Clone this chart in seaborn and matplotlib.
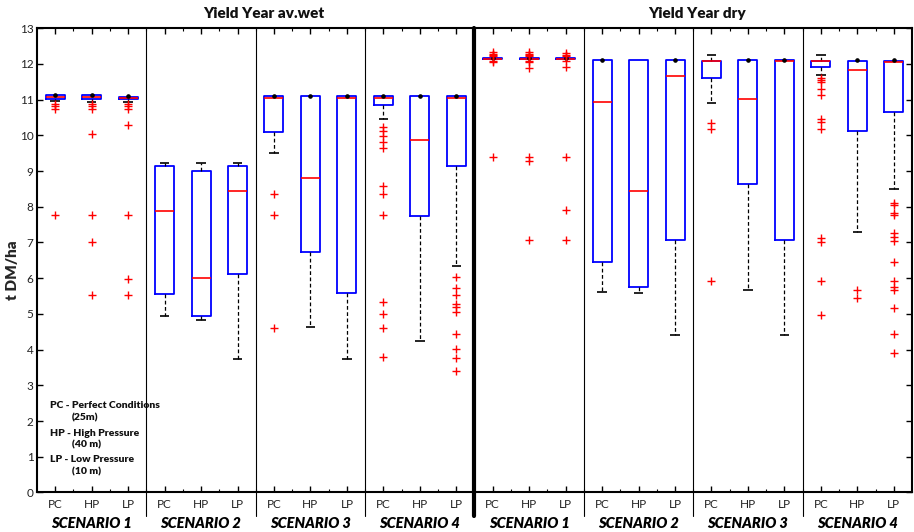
import matplotlib
matplotlib.use("Agg")
import matplotlib.pyplot as plt
import matplotlib.transforms as mtransforms
import seaborn as sns
import pandas as pd
import numpy as np

# ---------------- data ----------------
years = ["Yield Year av.wet", "Yield Year dry"]
scenarios = ["SCENARIO 1", "SCENARIO 2", "SCENARIO 3", "SCENARIO 4"]
methods = ["PC", "HP", "LP"]
ylabel = "t DM/ha"
legend_lines = ["PC - Perfect Conditions", "(25m)", "HP - High Pressure",
                "(40 m)", "LP - Low Pressure", "(10 m)"]

# order: av.wet S1..S4 (PC,HP,LP each), then dry S1..S4
whisker_low = [10.95, 10.93, 10.93, 4.93, 4.82, 3.75, 9.52, 4.62, 3.75, 10.46, 4.25, 6.35,
               12.11, 12.11, 12.11, 5.60, 5.58, 4.42, 10.90, 5.67, 4.42, 11.69, 7.30, 8.50]
q1 = [11.03, 11.03, 11.01, 5.57, 4.95, 6.12, 10.10, 6.72, 5.58, 10.84, 7.73, 9.15,
      12.13, 12.13, 12.13, 6.46, 5.76, 7.08, 11.60, 8.65, 7.08, 11.92, 10.12, 10.65]
median = [11.07, 11.07, 11.04, 7.88, 6.01, 8.44, 11.05, 8.82, 11.05, 11.06, 9.87, 11.05,
          12.15, 12.15, 12.15, 10.93, 8.44, 11.67, 12.08, 11.03, 12.08, 12.08, 11.82, 12.06]
q3 = [11.13, 11.13, 11.08, 9.15, 9.00, 9.15, 11.10, 11.10, 11.10, 11.10, 11.10, 11.10,
      12.16, 12.16, 12.16, 12.10, 12.10, 12.10, 12.09, 12.10, 12.10, 12.09, 12.09, 12.09]
whisker_high = [11.14, 11.14, 11.10, 9.22, 9.22, 9.22, 11.11, 11.11, 11.11, 11.11, 11.11, 11.11,
                12.18, 12.18, 12.18, 12.11, 12.10, 12.11, 12.24, 12.11, 12.11, 12.24, 12.10, 12.10]
outliers = [
    [10.88, 10.82, 10.73, 7.76],
    [10.88, 10.82, 10.73, 10.03, 7.76, 7.02, 5.53],
    [10.88, 10.82, 10.73, 10.30, 7.76, 5.97, 5.53],
    [], [], [],
    [8.37, 7.76, 4.60],
    [],
    [],
    [10.24, 10.13, 9.97, 9.81, 9.64, 8.57, 8.36, 7.76, 5.34, 4.99, 4.61, 3.78],
    [],
    [6.04, 5.73, 5.54, 5.28, 5.18, 5.05, 4.45, 4.03, 3.77, 3.40],
    [12.33, 12.29, 12.25, 12.22, 12.09, 12.05, 9.39],
    [12.33, 12.29, 12.25, 12.22, 12.09, 12.05, 11.89, 9.39, 9.28, 7.08],
    [12.30, 12.26, 12.22, 12.09, 11.92, 9.39, 7.91, 7.08],
    [], [], [],
    [10.36, 10.18, 5.91],
    [],
    [],
    [11.62, 11.55, 11.50, 11.30, 11.13, 10.46, 10.38, 10.17, 7.13, 7.02, 5.91, 4.97],
    [5.67, 5.45],
    [8.11, 8.06, 7.83, 7.78, 7.28, 7.16, 7.05, 6.46, 5.93, 5.74, 5.67, 5.17, 4.43, 3.90],
]

# ---------------- style ----------------
sns.set_style("ticks")
plt.rcParams['font.family'] = ['Lato', 'DejaVu Sans']

W, H = 914, 532
fig = plt.figure(figsize=(W / 100, H / 100), dpi=100)
ax_l, ax_r, ax_t, ax_b = 37, 912, 28.3, 492.4
ax = fig.add_axes([ax_l / W, (H - ax_b) / H, (ax_r - ax_l) / W, (ax_b - ax_t) / H])

n = len(q1)
positions = np.arange(1, n + 1)
stats = [dict(whislo=whisker_low[i], q1=q1[i], med=median[i], q3=q3[i],
              whishi=whisker_high[i], fliers=[]) for i in range(n)]

ax.bxp(stats, positions=positions, widths=0.52, showfliers=False, showcaps=False,
       boxprops=dict(color='#0000FF', linewidth=1.3),
       medianprops=dict(color='#FF0000', linewidth=1.2),
       whiskerprops=dict(color='black', linestyle=(0, (3, 2)), linewidth=0.9),
       manage_ticks=False)

# caps (short lines) / dots where whisker has ~zero length
cap_half = 0.13
for i, p in enumerate(positions):
    for w, ref in ((whisker_high[i], q3[i]), (whisker_low[i], q1[i])):
        if abs(w - ref) > 0.04:
            ax.hlines(w, p - cap_half, p + cap_half, color='black', linewidth=1.2, zorder=3)
        elif w > ref:
            ax.plot([p], [w], marker='o', ms=2.3, color='black', zorder=4)

# outliers through seaborn
out_df = pd.DataFrame([(positions[i], v) for i in range(n) for v in outliers[i]],
                      columns=["pos", "value"])
sns.scatterplot(data=out_df, x="pos", y="value", marker='+', color='#FF0000',
                s=34, linewidth=1.0, ax=ax, legend=False, zorder=5)

# axes
ax.set_xlim(0.5, n + 0.5)
ax.set_ylim(0, 13)
ax.set_yticks(np.arange(0, 14, 1))
ax.set_xticks(positions)
ax.set_xticklabels(methods * (n // 3))
ax.set_xticks(np.arange(1.5, n, 1.0), minor=True)
ax.set_xlabel("")
ax.set_ylabel("")
ax.tick_params(axis='both', which='major', direction='in', top=True, right=True,
               length=4, width=1, color='black', labelsize=8.5, labelcolor='#222222')
ax.tick_params(axis='x', which='major', pad=4.5)
ax.tick_params(axis='y', which='major', pad=2.5)
ax.tick_params(axis='x', which='minor', direction='in', top=True, bottom=True,
               length=2.5, width=0.8, color='black')
for sp in ax.spines.values():
    sp.set_visible(True)
    sp.set_linewidth(1.5)
    sp.set_color('black')

# separators
for xs in [3.5, 6.5, 9.5, 15.5, 18.5, 21.5]:
    ax.axvline(xs, ymin=-0.05, ymax=1, color='black', linewidth=0.8, clip_on=False, zorder=1)
ax.axvline(12.5, ymin=-0.05, ymax=1, color='black', linewidth=3, clip_on=False, zorder=6)

# scenario labels
trans = mtransforms.blended_transform_factory(ax.transData, ax.transAxes)
for yi in range(2):
    for si, sc in enumerate(scenarios):
        cx = yi * 12 + si * 3 + 2
        ax.text(cx, -0.068, sc, transform=trans, ha='center', va='center',
                fontsize=10.5, fontweight='heavy', fontstyle='italic', color='black')

# year titles
for x_c, t in zip([6.73, 18.6], years):
    ax.text(x_c, 1.031, t, transform=trans, ha='center', va='center',
            fontsize=11, fontweight='heavy', color='#111111')

# y label
fig.text(13 / W, 1 - 270 / H, ylabel, rotation=90, ha='center', va='center',
         fontsize=11, fontweight='heavy')

# legend text block
leg_x = [50, 71.7, 50, 71.7, 50, 71.7]
leg_y = [405.3, 418, 433.3, 444.7, 460, 472]
for tx, lx, ly in zip(legend_lines, leg_x, leg_y):
    fig.text(lx / W, 1 - ly / H, tx, ha='left', va='center', fontsize=7.5,
             fontweight='heavy', color='#111111')

fig.savefig("out.png", dpi=100)
